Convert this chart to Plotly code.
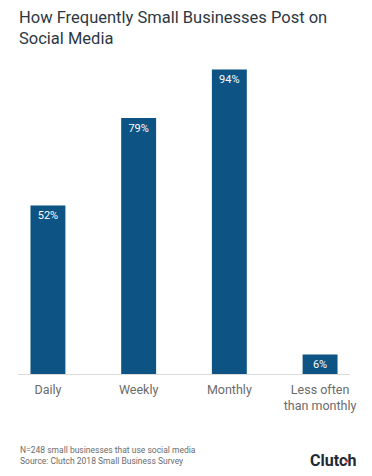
import plotly.graph_objects as go

categories = ["Daily", "Weekly", "Monthly", "Less often<br>than monthly"]
values = [52, 79, 94, 6]
labels = ["52%", "79%", "94%", "6%"]

title_text = "How Frequently Small Businesses Post on<br>Social Media"
note_lines = ["N=248 small businesses that use social media",
              "Source: Clutch 2018 Small Business Survey"]

BAR = "#0d5384"
FONT = "Roboto"

fig = go.Figure(go.Bar(
    x=list(range(len(categories))),
    y=values,
    text=labels,
    textposition="inside",
    insidetextanchor="end",
    textfont=dict(family=FONT, size=11.5, color="white"),
    marker=dict(color=BAR, line=dict(width=0)),
    width=0.385,
    hoverinfo="skip",
))

# page body has an 8px margin, so the figure is 8px smaller and shifted
fig.update_layout(
    width=364, height=468,
    margin=dict(l=10, r=22, t=42, b=102),
    paper_bgcolor="white", plot_bgcolor="white",
    showlegend=False,
    uniformtext=dict(minsize=11, mode="show"),
    xaxis=dict(
        tickmode="array",
        tickvals=list(range(len(categories))),
        ticktext=categories,
        range=[-0.33, 3.33],
        showgrid=False, zeroline=False,
        showline=True, linecolor="#dcdcdc", linewidth=1,
        ticks="", ticklabelstandoff=4,
        tickfont=dict(family=FONT, size=12.5, color="#6b6b6b"),
    ),
    yaxis=dict(range=[0, 100], visible=False),
    font=dict(family=FONT),
)

fig.add_annotation(
    text=title_text, xref="paper", yref="paper",
    x=0, y=1, xanchor="left", yanchor="bottom",
    yshift=1, borderpad=0,
    align="left", showarrow=False,
    font=dict(family=FONT, size=16.5, color="#2d3843"),
)
fig.add_annotation(
    text="<br>".join(note_lines), xref="paper", yref="paper",
    x=0, y=0, xanchor="left", yanchor="top",
    yshift=-69, align="left", showarrow=False,
    font=dict(family=FONT, size=8.5, color="#6b6b6b"),
)
fig.add_annotation(
    text="<b>Clutch</b>", xref="paper", yref="paper",
    x=1, y=0, xanchor="right", yanchor="top",
    xshift=8, yshift=-75, showarrow=False,
    font=dict(family=FONT, size=16, color="#1f2a33"),
)
fig.add_shape(
    type="circle", xref="paper", yref="paper",
    xsizemode="pixel", ysizemode="pixel",
    xanchor=0.991, yanchor=-0.2685,
    x0=-1.6, x1=1.6, y0=-1.6, y1=1.6,
    fillcolor="#e8424a", line=dict(width=0),
)

fig.write_html("out.html")
